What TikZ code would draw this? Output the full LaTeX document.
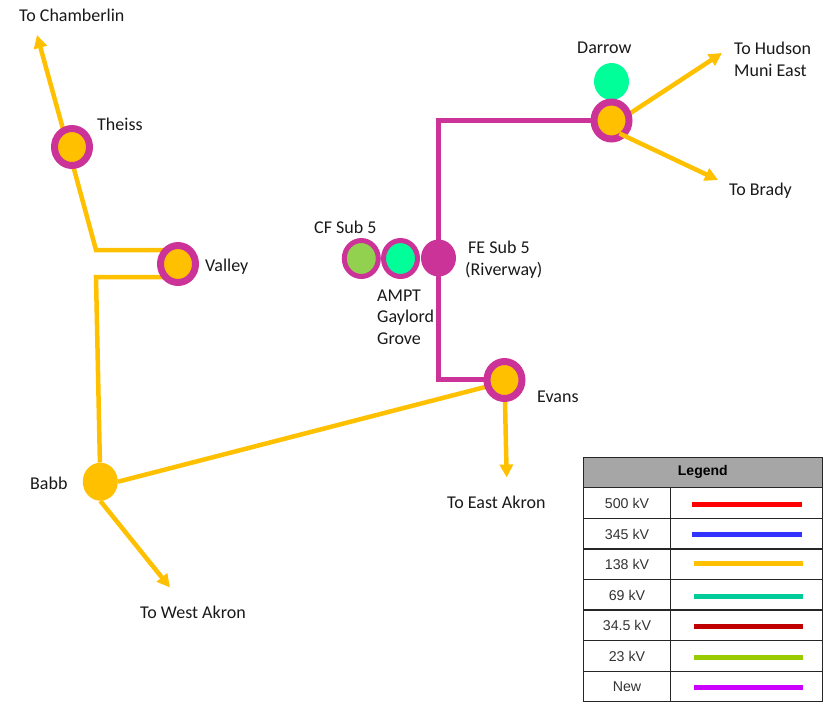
\documentclass[tikz,border=0pt]{standalone}
\usepackage{fontspec}
\setmainfont{Carlito}
\newfontfamily\legendfont{Liberation Sans}
\usetikzlibrary{arrows.meta,shapes.geometric,backgrounds}
\definecolor{busorange}{HTML}{FFC000}
\definecolor{busmagenta}{HTML}{CC3399}
\definecolor{busgreen}{HTML}{00FF99}
\definecolor{busolive}{HTML}{92D050}
\definecolor{legendgray}{HTML}{A6A6A6}
\definecolor{legendteal}{HTML}{00CC99}
\definecolor{legendlime}{HTML}{99CC00}
\definecolor{legendnew}{HTML}{CC00FF}
\definecolor{legendred}{HTML}{FF0000}
\definecolor{legendblue}{HTML}{3333FF}
\definecolor{legenddark}{HTML}{C00000}
\tikzset{
  bus/.style={ellipse,inner sep=0pt,minimum width=#1,minimum height=#1+2},
  ringbus/.style={bus=35,fill=busorange,draw=busmagenta,line width=7pt},
  smallring/.style={bus=34,draw=busmagenta,line width=5pt},
  line138/.style={draw=busorange,line width=4.5pt},
  linenew/.style={draw=busmagenta,line width=5pt},
  tiptarget/.style={-{Triangle[length=13pt,width=13pt]}},
  place/.style={anchor=west,inner sep=0pt,font=\fontsize{18}{21.7}\selectfont,text=black!90,align=left},
  legendlabel/.style={inner sep=0pt,font=\legendfont\fontsize{14.2}{16}\selectfont,text=black!80}
}
\begin{document}
\begin{tikzpicture}[x=1pt,y=-1pt]
\useasboundingbox (0,0) rectangle (831,702);
% buses
\node[ringbus] (theiss) at (72,147) {};
\node[ringbus] (valley) at (178,264) {};
\node[ringbus] (evans) at (504.5,380) {};
\node[ringbus] (darrow) at (611.5,120.5) {};
\node[bus=35,fill=busorange,minimum height=38pt] (babb) at (100.3,481.7) {};
\node[bus=35,fill=busmagenta] (fesub) at (438.5,258) {};
\node[smallring,fill=busolive] (cfsub) at (361.3,258.5) {};
\node[smallring,fill=busgreen] (ampt) at (400.5,258.5) {};
\begin{scope}[on background layer]
\node[bus=35,fill=busgreen] (darrowlow) at (611.5,81.5) {};
\end{scope}
% corners and arrow ends
\coordinate (valleyup) at (96,250);
\coordinate (valleydown) at (96,277);
\coordinate (tochamberlin) at (37,35);
\coordinate (tohudson) at (722,53);
\coordinate (tobrady) at (718,180);
\coordinate (toeast) at (506.7,477.5);
\coordinate (towest) at (170,587.5);
\coordinate (darrowturn) at (438,120.5);
\coordinate (evansturn) at (438,379);
% lines behind the buses
\begin{scope}[on background layer]
\draw[line138,tiptarget] ([xshift=-4pt]theiss.center) -- (tochamberlin);
\draw[line138,line join=miter] ([xshift=-4pt]theiss.center) -- (valleyup) -- (valleyup -| valley);
\draw[line138] (babb) -- (valleydown) -- (valleydown -| valley);
\draw[line138] (babb.east) -- ([yshift=-2pt]evans.center);
\draw[line138,tiptarget] (babb.south) -- (towest);
\draw[line138,tiptarget] (evans) -- (toeast);
\draw[line138,tiptarget] ([yshift=-5pt]darrow.center) -- (tohudson);
\draw[linenew] (darrow) -- (darrowturn) -- (darrowturn |- fesub);
\draw[linenew] (evansturn |- fesub) -- (evansturn) -- (evansturn -| evans);
\end{scope}
\draw[line138,tiptarget] ([shift={(8,13)}]darrow.center) -- (tobrady); % over the ring
% place names
\node[place] (lblchamberlin) at (19,15) {To Chamberlin};
\node[place] (lbltheiss) at (97,124) {Theiss};
\node[place] (lblvalley) at (205,267) {Valley};
\node[place] (lblbabb) at (30,483) {Babb};
\node[place] (lblwest) at (140,612) {To West Akron};
\node[place] (lbleast) at (447,502) {To East Akron};
\node[place] (lblevans) at (537,397) {Evans};
\node[place] (lblcf) at (314,227) {CF Sub 5};
\node[place] (lblfe) at (465,259.5) {\hspace*{3pt}FE Sub 5\\(Riverway)};
\node[place] (lblampt) at (377,317) {AMPT\\Gaylord\\Grove};
\node[place] (lbldarrow) at (577,48) {Darrow};
\node[place] (lblhudson) at (734,59.5) {To Hudson\\Muni East};
\node[place] (lblbrady) at (729,190.5) {To Brady};
% legend
\node[draw=black!85,line width=1.3pt,fill=legendgray,minimum width=239pt,minimum height=30pt,inner sep=0pt,font=\legendfont\bfseries\fontsize{14}{16}\selectfont] (legendhead) at (702.8,472.3) {\raisebox{-3.5pt}{Legend}};
\foreach \i/\ytop/\ybot/\ymid/\xa/\xb/\col/\lab in {%
  1/487.3/518.3/504/692/802/legendred/500 kV,
  2/518.3/549/534.7/692/802/legendblue/345 kV,
  3/549/579.3/563/694/803/busorange/138 kV,
  4/579.3/610/596/694/803/legendteal/69 kV,
  5/610/640.7/626.5/694/803/legenddark/34.5 kV,
  6/640.7/671.3/657/694/803/legendlime/23 kV,
  7/671.3/701.5/687.5/694/803/legendnew/New}{
\draw[black!85,line width=1.3pt] (583.3,\ytop) rectangle (670.7,\ybot) (670.7,\ytop) rectangle (822.3,\ybot);
\node[legendlabel] (legend\i) at (627,{(\ytop+\ybot)/2+0.4}) {\lab};
\draw[\col,line width=5pt] (\xa,\ymid) -- (\xb,\ymid);
}
\end{tikzpicture}
\end{document}
